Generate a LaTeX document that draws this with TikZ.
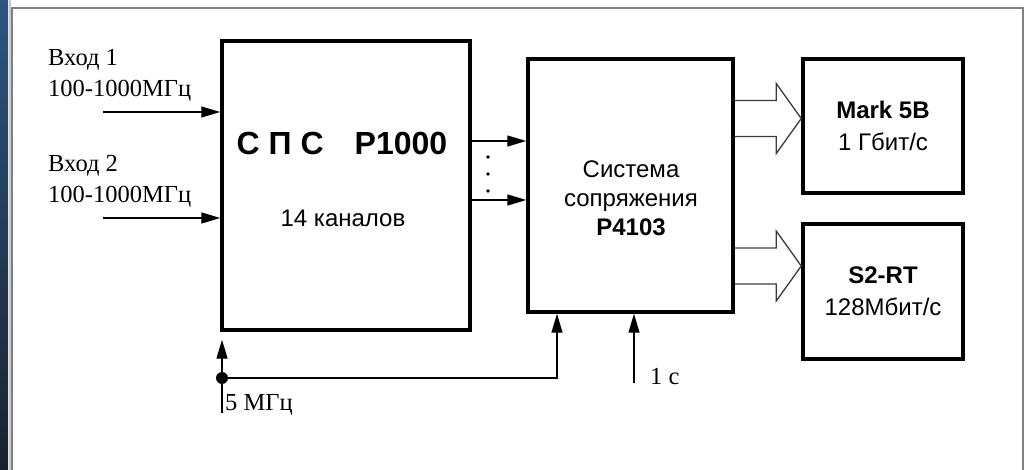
\documentclass[tikz,border=0pt]{standalone}
\usepackage{fontspec}
\setmainfont{Liberation Serif}
\setsansfont{Liberation Sans}
\definecolor{framegray}{RGB}{128,128,128}
\definecolor{framelight}{RGB}{200,200,200}
\definecolor{stripblue}{RGB}{45,85,130}
\definecolor{stripdark}{RGB}{25,35,45}
\definecolor{wiregray}{RGB}{60,60,60}
\usetikzlibrary{arrows.meta,calc}
% hollow double-line arrow: from node, to node, y of its axis
\newcommand{\widearrow}[3]{%
  \draw[widearrow] (#1.east |- 0,#3-18) -- ($(#2.west |- 0,#3-18)+(-25,0)$)
    -- ++(0,-17) -- (#2.west |- 0,#3) -- ($(#2.west |- 0,#3+35)+(-25,0)$)
    -- ++(0,-17) -- (#1.east |- 0,#3+18);}

\begin{document}
\begin{tikzpicture}[
  x=1pt, y=-1pt,
  box/.style={draw,line width=3.5pt,inner sep=0pt},
  boxtext/.style={font=\sffamily\fontsize{24}{29}\selectfont,inner sep=0pt,align=center},
  lbl/.style={font=\fontsize{24.5}{31}\selectfont,inner sep=0pt,align=left},
  sig/.style={line width=1.4pt,-{Triangle[length=19pt,width=11pt]}},
  wire/.style={line width=1.4pt},
  widearrow/.style={line width=1.3pt,draw=wiregray},
  dot/.style={circle,fill,inner sep=0pt,minimum size=12pt},
]
  \useasboundingbox (0,0) rectangle (1026,470);
  % frame
  \shade[top color=stripblue,bottom color=stripdark] (0,0) rectangle (8,470);
  \draw[framelight,line width=2pt] (9.5,0) -- (9.5,470);
  \draw[framegray,line width=2pt] (12,470) -- (12,8) -- (1023,8) -- (1023,470);

  % Box 1
  \node[box,minimum width=248pt,minimum height=289pt] (sps) at (346,185.5) {};
  \node[boxtext,font=\sffamily\bfseries\fontsize{32}{36}\selectfont,anchor=base] (spsname) at (342,155) {С П С\hspace{31pt}P1000};
  \node[boxtext,anchor=base] (spsch) at (343,227) {14 каналов};
  % Box 2
  \node[box,minimum width=205pt,minimum height=253pt] (sys) at (630.5,185.5) {};
  \node[boxtext,anchor=north] (sysname) at (631,161) {Система\\сопряжения\\\textbf{P4103}};
  % recorders
  \node[box,boxtext,font=\sffamily\fontsize{24}{32}\selectfont,minimum width=160pt,minimum height=134pt] (mark) at (883,126) {\textbf{Mark 5B}\\1 Гбит/с};
  \node[box,boxtext,font=\sffamily\fontsize{24}{32}\selectfont,minimum width=160pt,minimum height=135pt] (srt) at (883,291.5) {\textbf{S2-RT}\\128Мбит/с};

  % inputs
  \coordinate (in1) at (103,112);
  \coordinate (in2) at (103,218);
  \draw[sig] (in1) -- (in1 -| sps.west);
  \draw[sig] (in2) -- (in2 -| sps.west);
  \node[lbl,anchor=north west] (in1lbl) at (48,49) {Вход 1\\100-1000МГц};
  \node[lbl,anchor=north west] (in2lbl) at (48,155) {Вход 2\\100-1000МГц};

  % channels
  \draw[sig] (sps.east |- 0,141) -- (sys.west |- 0,141);
  \draw[sig] (sps.east |- 0,200) -- (sys.west |- 0,200);
  \foreach \yy in {157,174,191}
    \fill (488,\yy) circle (1.8pt);

  \widearrow{sys}{mark}{118.5}
  \widearrow{sys}{srt}{266}

  % clock
  \node[dot] (clk) at (222,378) {};
  \coordinate (clkin) at (222,413);
  \draw[wire] (clkin) -- (clk);
  \draw[sig] (clk) -- ($(clk |- sps.south)+(0,8)$);
  \draw[sig] (clk) -| (557,0 |- sys.south);
  \node[lbl,anchor=west] (clklbl) at (225,405) {5 МГц};
  \coordinate (sec) at (634,383);
  \draw[sig] (sec) -- (sec |- sys.south);
  \node[lbl,anchor=west] (seclbl) at (650,377) {1 с};
\end{tikzpicture}
\end{document}
